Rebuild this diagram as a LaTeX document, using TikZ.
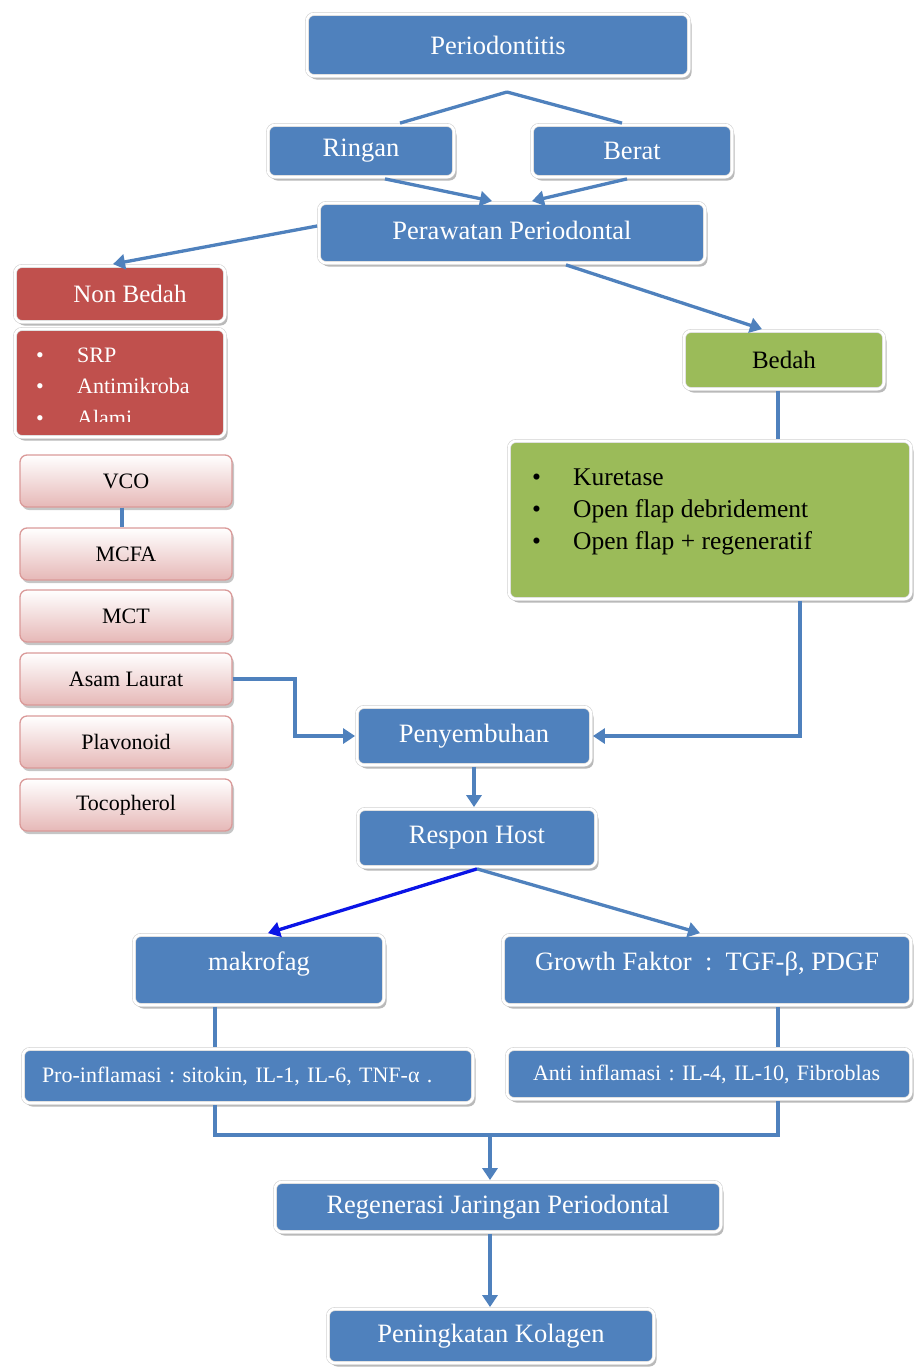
\documentclass[tikz,border=0pt]{standalone}
\usepackage{fontspec}
\setmainfont{Liberation Serif}
\usetikzlibrary{shadows,arrows.meta}
\definecolor{myblue}{HTML}{4F81BD}
\definecolor{myred}{HTML}{C0504D}
\definecolor{mygreen}{HTML}{9BBB59}
\definecolor{pinkbot}{HTML}{E6B8B7}
\definecolor{pinkline}{HTML}{DA9A99}
\definecolor{darkarrow}{HTML}{0A14E6}
\frenchspacing
\tikzset{
  box/.style={rounded corners=7pt, draw=black!18, double=white, double distance=2.6pt, line width=0.6pt,
    outer sep=1.9pt, inner sep=2pt,
    drop shadow={shadow xshift=2.5pt, shadow yshift=-3.5pt, fill=black!55, opacity=.5}},
  bluebox/.style={box, fill=myblue, text=white, font=\fontsize{26.5}{30}\selectfont},
  redbox/.style={box, fill=myred, text=white, font=\fontsize{25}{30}\selectfont},
  greenbox/.style={box, fill=mygreen, text=black, font=\fontsize{25}{30}\selectfont},
  pinkbox/.style={rounded corners=7pt, draw=pinkline, line width=1.3pt, top color=white, bottom color=pinkbot,
    minimum width=212pt, minimum height=52pt, outer sep=0.6pt, font=\fontsize{22}{26}\selectfont,
    drop shadow={shadow xshift=2pt, shadow yshift=-3pt, fill=black!50, opacity=.45}},
  smallblue/.style={box, fill=myblue, text=white, font=\fontsize{22}{26}\selectfont},
  conn/.style={draw=myblue, line width=3.3pt},
  arr/.style={conn, -{Triangle[width=15pt,length=12pt]}},
  listw/.style={anchor=base west, text=white, font=\fontsize{22}{26}\selectfont, inner sep=0pt},
  listk/.style={anchor=base west, text=black, font=\fontsize{25.5}{30}\selectfont, inner sep=0pt},
}
\begin{document}
\begin{tikzpicture}[x=1pt,y=-1pt]
\useasboundingbox (0,0) rectangle (916,1371);

% top part
\node[bluebox, minimum width=382pt, minimum height=62pt] (per) at (498,45) {Periodontitis};
\node[bluebox, minimum width=186pt, minimum height=52pt] (ringan) at (361,151) {Ringan};
\node[bluebox, minimum width=200pt, minimum height=52pt] (berat) at (632,151) {Berat};
\node[bluebox, minimum width=386pt, minimum height=60pt] (perawatan) at (512,233) {\raisebox{6pt}{Perawatan Periodontal}};

% non bedah
\node[redbox, minimum width=210pt, minimum height=56pt] (nonbedah) at (120,294) {\hspace*{20pt}Non Bedah};
\node[redbox, minimum width=210pt, minimum height=108pt] (nblist) at (120,383) {};
\node[listw] (srp) at (36,362) {\makebox[41pt][l]{\textbullet}SRP};
\node[listw] (anti1) at (36,393) {\makebox[41pt][l]{\textbullet}Antimikroba};
\begin{scope}
  \clip (20,400) rectangle (220,421);
  \node[listw] (alami) at (36,425) {\makebox[41pt][l]{\textbullet}Alami};
\end{scope}

\node[pinkbox] (vco) at (126,481) {VCO};
\node[pinkbox] (mcfa) at (126,554) {MCFA};
\node[pinkbox] (mct) at (126,616) {MCT};
\node[pinkbox] (asam) at (126,679) {Asam Laurat};
\node[pinkbox] (plav) at (126,742) {Plavonoid};
\node[pinkbox] (toco) at (126,805) {Tocopherol};

% bedah
\node[greenbox, minimum width=200pt, minimum height=58pt] (bedah) at (784,360) {Bedah};
\node[greenbox, minimum width=402pt, minimum height=158pt] (bedlist) at (710,520) {};
\node[listk] (kur) at (532,485) {\makebox[41pt][l]{\textbullet}Kuretase};
\node[listk] (ofd) at (532,517) {\makebox[41pt][l]{\textbullet}Open flap debridement};
\node[listk] (ofr) at (532,549) {\makebox[41pt][l]{\textbullet}Open flap + regeneratif};

% lower part
\node[bluebox, minimum width=234pt, minimum height=58pt] (peny) at (474,736) {Penyembuhan};
\node[bluebox, minimum width=238pt, minimum height=58pt] (respon) at (477,838) {Respon Host};
\node[bluebox, minimum width=250pt, minimum height=70pt] (makro) at (259,970) {\raisebox{18pt}{makrofag}};
\node[bluebox, minimum width=408pt, minimum height=70pt] (growth) at (707,970) {\raisebox{18pt}{Growth Faktor~~:~~TGF-β, PDGF}};
\node[smallblue, minimum width=450pt, minimum height=54pt, text width=412pt, inner xsep=17pt, align=left] (pro) at (248,1076) {Pro-inflamasi : sitokin, IL-1, IL-6, TNF-α .};
\node[smallblue, minimum width=404pt, minimum height=50pt, text width=352pt, inner xsep=24pt, align=left] (anti) at (709,1074) {Anti inflamasi : IL-4, IL-10, Fibroblas};
\node[bluebox, minimum width=446pt, minimum height=50pt] (regen) at (498,1207) {Regenerasi Jaringan Periodontal};
\node[bluebox, minimum width=326pt, minimum height=54pt] (pening) at (491,1336) {Peningkatan Kolagen};

% connectors
\coordinate (ptop) at (507,92);
\draw[conn] (ptop) -- (400,0 |- ringan.north);
\draw[conn] (ptop) -- (622,0 |- berat.north);
\draw[arr] (385,0 |- ringan.south) -- (492,0 |- perawatan.north);
\draw[arr] (627,0 |- berat.south) -- (532,0 |- perawatan.north);
\draw[arr] (perawatan.west |- 0,226) -- (113,0 |- nonbedah.north);
\draw[arr] (566,0 |- perawatan.south) -- (762,0 |- bedah.north);
\draw[conn] (778,0 |- bedah.south) -- (778,0 |- bedlist.north);
\draw[conn] (122,0 |- vco.south) -- (122,0 |- mcfa.north);
\draw[arr] (asam.east) -- (295,0 |- asam.east) -- (295,0 |- peny.west) -- (peny.west);
\draw[arr] (800,0 |- bedlist.south) -- (800,0 |- peny.east) -- (peny.east);
\draw[arr] (peny.south) -- (peny.south |- respon.north);
\draw[conn, draw=darkarrow, -{Triangle[width=15pt,length=12pt]}] (respon.south) -- (268,0 |- makro.north);
\draw[arr] (respon.south) -- (700,0 |- growth.north);
\draw[conn] (215,0 |- makro.south) -- (215,0 |- pro.north);
\draw[conn] (778,0 |- growth.south) -- (778,0 |- anti.north);
\coordinate (join) at (490,1135);
\draw[conn] (215,0 |- pro.south) -- (215,1135) -- (778,1135) -- (778,0 |- anti.south);
\draw[arr] (join) -- (join |- regen.north);
\draw[arr] (490,0 |- regen.south) -- (490,0 |- pening.north);
\end{tikzpicture}
\end{document}
